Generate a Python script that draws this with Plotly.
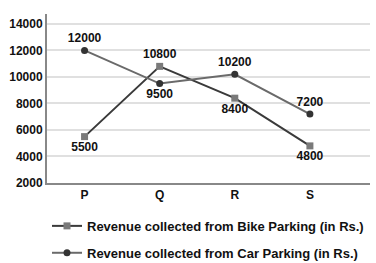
import plotly.graph_objects as go

categories = ["P", "Q", "R", "S"]
bike = [5500, 10800, 8400, 4800]
car = [12000, 9500, 10200, 7200]
bike_pos = ["bottom center", "top center", "bottom center", "bottom center"]
car_pos = ["top center", "bottom center", "top center", "top center"]
yticks = [2000, 4000, 6000, 8000, 10000, 12000, 14000]

fam = "Liberation Sans, Arial, sans-serif"
font = dict(family=fam, size=12, color="#111")

fig = go.Figure()
fig.add_trace(go.Scatter(
    x=[0, 1, 2, 3], y=bike, mode="lines+markers+text",
    name="<b>Revenue collected from Bike Parking (in Rs.)</b>",
    legendgroup="a",
    line=dict(color="#3a3a3a", width=2),
    marker=dict(symbol="square", size=7, color="#7a7a7a"),
    text=[f"<b>{v}</b>" for v in bike], textposition=bike_pos,
    textfont=font,
))
fig.add_trace(go.Scatter(
    x=[0, 1, 2, 3], y=car, mode="lines+markers+text",
    name="<b>Revenue collected from Car Parking (in Rs.)</b>",
    legendgroup="b",
    line=dict(color="#6a6a6a", width=2),
    marker=dict(symbol="circle", size=7, color="#333333"),
    text=[f"<b>{v}</b>" for v in car], textposition=car_pos,
    textfont=font,
))

fig.update_layout(
    width=376, height=263,
    margin=dict(l=47, r=6, t=14, b=80, autoexpand=False),
    paper_bgcolor="white", plot_bgcolor="white",
    font=font,
    showlegend=True,
    legend=dict(x=0.0, y=0.198, xanchor="left", yanchor="top", yref="container",
                font=dict(family=fam, size=13, color="#111"),
                tracegroupgap=7, itemwidth=30, bgcolor="rgba(0,0,0,0)"),
    xaxis=dict(range=[-0.5, 3.8], tickmode="array", tickvals=[0, 1, 2, 3],
               ticktext=[f"<b>{c}</b>" for c in categories],
               showgrid=False, zeroline=False, showline=True, linecolor="#888", linewidth=2,
               ticks="", fixedrange=True),
    yaxis=dict(range=[2000, 14750], tickmode="array", tickvals=yticks,
               ticktext=[f"<b>{v}</b>" for v in yticks],
               showgrid=True, gridcolor="#e0e0e0", gridwidth=2,
               zeroline=False, showline=True, linecolor="#888", linewidth=2,
               ticks="", ticklen=0, fixedrange=True),
)

fig.write_html("out.html")
